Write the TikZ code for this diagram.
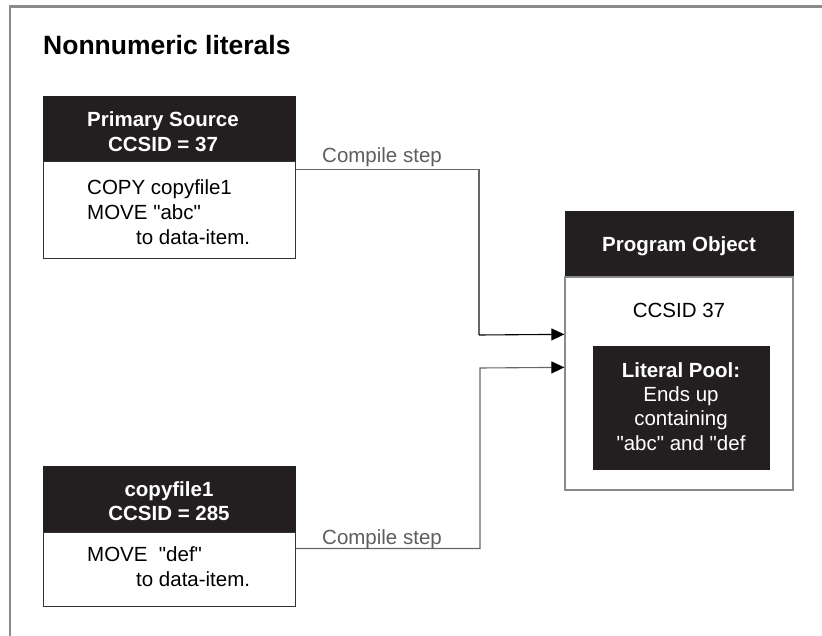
\documentclass[tikz,border=0pt]{standalone}
\usepackage{fontspec}
\setmainfont{Liberation Sans}[Ligatures=TeXOff]
\usetikzlibrary{arrows.meta}
\definecolor{hdr}{HTML}{231F20}
\definecolor{frm}{HTML}{8A8A8A}
\definecolor{cline}{HTML}{666666}
\definecolor{ctext}{HTML}{5E5E5E}
\begin{document}
\begin{tikzpicture}[x=1pt,y=-1pt,
  txt/.style={inner sep=0pt,anchor=base,font=\fontsize{20.5}{24.5}\selectfont},
  txtw/.style={txt,anchor=base west},
  htxt/.style={txt,font=\fontsize{20.5}{24.5}\selectfont\bfseries,text=white},
  headbox/.style={draw=hdr,fill=hdr,line width=0.8pt,inner sep=0pt},
  bodybox/.style={draw=black!80,fill=white,line width=1pt,inner sep=0pt},
  conn/.style={draw=cline,line width=1.1pt},
  lbl/.style={txtw,text=ctext}]
\useasboundingbox (0,0) rectangle (822,636);
% frame
\draw[frm,line width=2.2pt] (10,640) -- (10,6.6) -- (830,6.6);
\node[txtw,font=\fontsize{26.5}{30}\selectfont\bfseries] (title) at (43,55) {Nonnumeric literals};

% Primary source
\node[headbox,minimum width=252pt,minimum height=66pt] (psh) at (169,129) {};
\node[bodybox,minimum width=252pt,minimum height=97pt] (psb) at (169,210.5) {};
\node[htxt] (psh1) at (163,127) {Primary Source};
\node[htxt] (psh2) at (163,152) {CCSID = 37};
\node[txtw] (psb1) at (87,195) {COPY copyfile1};
\node[txtw] (psb2) at (87,220) {MOVE "abc"};
\node[txtw] (psb3) at (136,245) {to data-item.};

% copyfile1
\node[headbox,minimum width=252pt,minimum height=66pt] (cfh) at (169,499) {};
\node[bodybox,minimum width=252pt,minimum height=74pt] (cfb) at (169,569) {};
\node[htxt] (cfh1) at (169,496) {copyfile1};
\node[htxt] (cfh2) at (169,520) {CCSID = 285};
\node[txtw] (cfb1) at (87,561) {MOVE\ \ "def"};
\node[txtw] (cfb2) at (136,586) {to data-item.};

% Program object
\node[headbox,minimum width=228pt,minimum height=66pt] (poh) at (679,244) {};
\node[draw=frm,fill=white,line width=1.3pt,inner sep=0pt,minimum width=228pt,minimum height=213pt] (pob) at (679,383.5) {};
\node[draw=hdr,fill=hdr,line width=0.8pt,inner sep=0pt,minimum width=176pt,minimum height=123pt] (lp) at (681,407.5) {};
\node[htxt] (poh1) at (679,252) {Program Object};
\node[txt] (pob1) at (679,318) {CCSID 37};
\node[htxt] (lp1) at (681,377) {Literal Pool:};
\node[txt,text=white] (lp2) at (681,401) {Ends up};
\node[txt,text=white] (lp3) at (681,425) {containing};
\node[txt,text=white] (lp4) at (681,450) {"abc" and "def};

% connectors
\coordinate (k1) at (479,335);
\coordinate (k2) at (480,368);
\draw[conn] ([yshift=-8pt]psb.north east) -| (k1);
\draw[draw=black,line width=1.1pt,-{Triangle[length=13pt,width=12pt]}] (k1) -- ([yshift=-58pt]pob.north west);
\draw[conn,-{Triangle[length=13pt,width=12pt,fill=black,color=black]}] ([yshift=-17pt]cfb.north east) -| (k2) -- ([yshift=-91pt]pob.north west);
\node[lbl] (l1) at (322,163) {Compile step};
\node[lbl] (l2) at (322,544) {Compile step};
\end{tikzpicture}
\end{document}
